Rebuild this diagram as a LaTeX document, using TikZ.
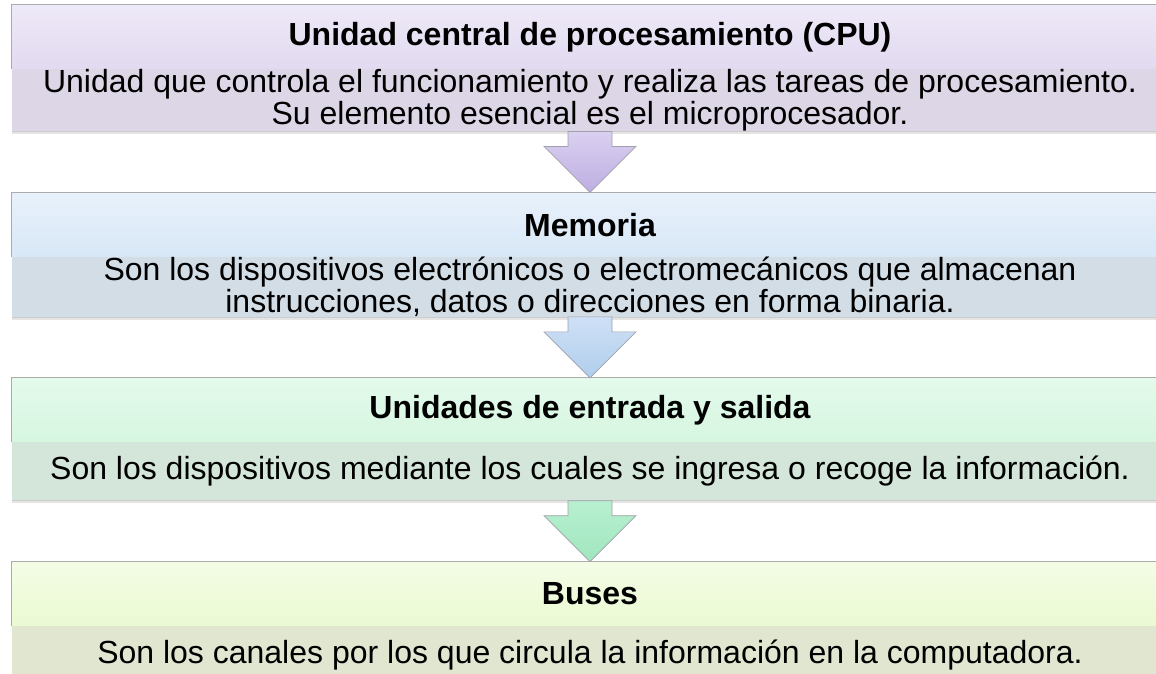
\documentclass[tikz,border=0pt]{standalone}
\usepackage{fontspec}
\setmainfont{Liberation Sans}
\usetikzlibrary{positioning, calc, shadows}
\definecolor{cpu-head-top}{RGB}{238,233,248}
\definecolor{cpu-head-bot}{RGB}{226,218,240}
\definecolor{cpu-body}{RGB}{221,214,230}
\definecolor{mem-head-top}{RGB}{232,241,251}
\definecolor{mem-head-bot}{RGB}{216,231,246}
\definecolor{mem-body}{RGB}{211,221,230}
\definecolor{io-head-top}{RGB}{228,250,236}
\definecolor{io-head-bot}{RGB}{214,246,224}
\definecolor{io-body}{RGB}{212,230,218}
\definecolor{bus-head-top}{RGB}{244,252,230}
\definecolor{bus-head-bot}{RGB}{234,250,210}
\definecolor{bus-body}{RGB}{224,230,208}
\definecolor{arr-line}{RGB}{160,160,170}

\begin{document}
\begin{tikzpicture}[x=1pt, y=1pt]
				\tikzset{head/.style={rectangle, minimum width=1156pt, minimum height=64pt, inner sep=0pt, font=\fontsize{32}{32}\selectfont\bfseries}}
				\tikzset{body/.style={rectangle, minimum width=1156pt, minimum height=58pt, inner sep=0pt, align=center, font=\fontsize{32}{32}\selectfont, drop shadow={shadow xshift=0pt, shadow yshift=-3pt, opacity=0.2}}}
				\tikzset{frame/.style={draw=gray!65, line width=0.9pt}}
				\tikzset{blockarr/.style={draw=arr-line, line width=0.7pt, line join=miter, to path={
							let \p1=(\tikztostart), \p2=(\tikztotarget) in
							(\x1-22pt,\y1) -- (\x1+22pt,\y1) -- (\x1+22pt,\y2+46pt) -- (\x1+46pt,\y2+46pt)
							-- (\x2,\y2) -- (\x1-46pt,\y2+46pt) -- (\x1-22pt,\y2+46pt) -- cycle}}}
				
				\clip (0,0) rectangle (1156,674);
				\path[fill=white] (0,0) rectangle (1156,674);
				
				% CPU
				\node[head, top color=cpu-head-top, bottom color=cpu-head-bot] at (590,637) (cpu-head) {Unidad central de procesamiento (CPU)};
				\node[body, fill=cpu-body, below=0pt of cpu-head] (cpu-body) {Unidad que controla el funcionamiento y realiza las tareas de procesamiento.\\Su elemento esencial es el microprocesador.};
				
				% Memoria
				\node[head, top color=mem-head-top, bottom color=mem-head-bot, below=61pt of cpu-body] (mem-head) {Memoria};
				\node[body, fill=mem-body, below=0pt of mem-head] (mem-body) {Son los dispositivos electrónicos o electromecánicos que almacenan\\instrucciones, datos o direcciones en forma binaria.};
				
				% Entrada y salida
				\node[head, top color=io-head-top, bottom color=io-head-bot, below=61pt of mem-body] (io-head) {Unidades de entrada y salida};
				\node[body, fill=io-body, below=0pt of io-head] (io-body) {Son los dispositivos mediante los cuales se ingresa o recoge la información.};
				
				% Buses
				\node[head, top color=bus-head-top, bottom color=bus-head-bot, below=61pt of io-body] (bus-head) {Buses};
				\node[body, fill=bus-body, below=0pt of bus-head] (bus-body) {Son los canales por los que circula la información en la computadora.};
				
				% outlines
				\foreach \blk in {cpu, mem, io, bus}{
					\draw[frame] (\blk-head.south west) -- (\blk-head.north west) -- (\blk-head.north east);
					\draw[gray!40, line width=0.7pt] (\blk-body.south west) -- (\blk-body.south east);
				}
				
				\draw[blockarr, top color={rgb,255:red,218;green,208;blue,240}, bottom color={rgb,255:red,190;green,174;blue,226}] (cpu-body.south) to (mem-head.north);
				\draw[blockarr, top color={rgb,255:red,206;green,224;blue,246}, bottom color={rgb,255:red,176;green,206;blue,236}] (mem-body.south) to (io-head.north);
				\draw[blockarr, top color={rgb,255:red,184;green,240;blue,208}, bottom color={rgb,255:red,160;green,230;blue,190}] (io-body.south) to (bus-head.north);
			\end{tikzpicture}
\end{document}
